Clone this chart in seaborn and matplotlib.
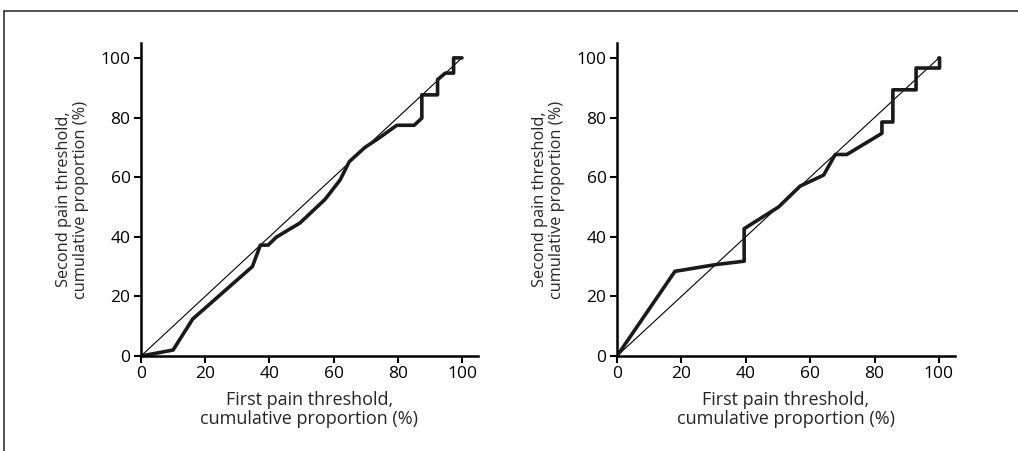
import matplotlib
matplotlib.use("Agg")
import matplotlib.pyplot as plt
import seaborn as sns
import pandas as pd
from matplotlib.lines import Line2D

# Data
left_x = [0, 10, 16.1, 34.7, 37.2, 39.6, 42.2, 49.5, 57.3, 62, 64.9, 69.8, 74, 79.7, 85.1,
          87.5, 87.5, 92.4, 92.4, 94.8, 97.4, 97.4, 100]
left_y = [0, 2, 12.4, 30, 37.2, 37.2, 39.9, 44.6, 52.5, 59, 65.2, 70, 73, 77.4, 77.4,
          79.8, 87.6, 87.6, 92.7, 94.9, 94.9, 100, 100]
right_x = [0, 18, 30.9, 39.5, 39.5, 50.2, 56.9, 64.2, 67.8, 71.4, 82.3, 82.3, 85.7, 85.7,
           92.9, 92.9, 100.2, 100.2, 100]
right_y = [0, 28.4, 30.7, 31.8, 42.7, 50, 57, 60.7, 67.6, 67.6, 74.7, 78.5, 78.5, 89.3,
           89.3, 96.6, 96.6, 100, 100]
diag = [0, 100]
ticks = [0, 20, 40, 60, 80, 100]
xlabel = "First pain threshold,\ncumulative proportion (%)"
ylabel = "Second pain threshold,\ncumulative proportion (%)"

sns.set_style("ticks")
plt.rcParams['font.family'] = ['Open Sans', 'DejaVu Sans']

fig = plt.figure(figsize=(10.18, 4.51), dpi=100)
W, H = 1018, 451
axes = [fig.add_axes([141 / W, 1 - 356 / H, (478 - 141) / W, (356 - 43) / H]),
        fig.add_axes([617 / W, 1 - 356 / H, (955 - 617) / W, (356 - 43) / H])]

for ax, xs, ys in zip(axes, [left_x, right_x], [left_y, right_y]):
    sns.lineplot(x=diag, y=diag, ax=ax, color='black', lw=0.8, sort=False, estimator=None)
    df = pd.DataFrame({'x': xs, 'y': ys})
    sns.lineplot(data=df, x='x', y='y', ax=ax, color='#1a1a1a', lw=2.6, sort=False,
                 estimator=None)
    ax.set_xlim(0, 105)
    ax.set_ylim(0, 105)
    ax.set_xticks(ticks)
    ax.set_yticks(ticks)
    ax.tick_params(labelsize=12.5, width=1.5, length=5, colors='black', pad=2.5)
    for s in ['top', 'right']:
        ax.spines[s].set_visible(False)
    for s in ['left', 'bottom']:
        ax.spines[s].set_linewidth(1.8)
        ax.spines[s].set_color('black')
    ax.set_xlabel(xlabel, fontsize=13, labelpad=6, linespacing=1.1)
    ax.set_ylabel(ylabel, fontsize=11.8, labelpad=8, linespacing=1.15)

# Partial frame (top and left edges)
fig.add_artist(Line2D([4 / W, 1.0], [1 - 11 / H, 1 - 11 / H], color='#333333', lw=1.2))
fig.add_artist(Line2D([4 / W, 4 / W], [0, 1 - 11 / H], color='#333333', lw=1.2))

fig.savefig("out.png", dpi=100)
